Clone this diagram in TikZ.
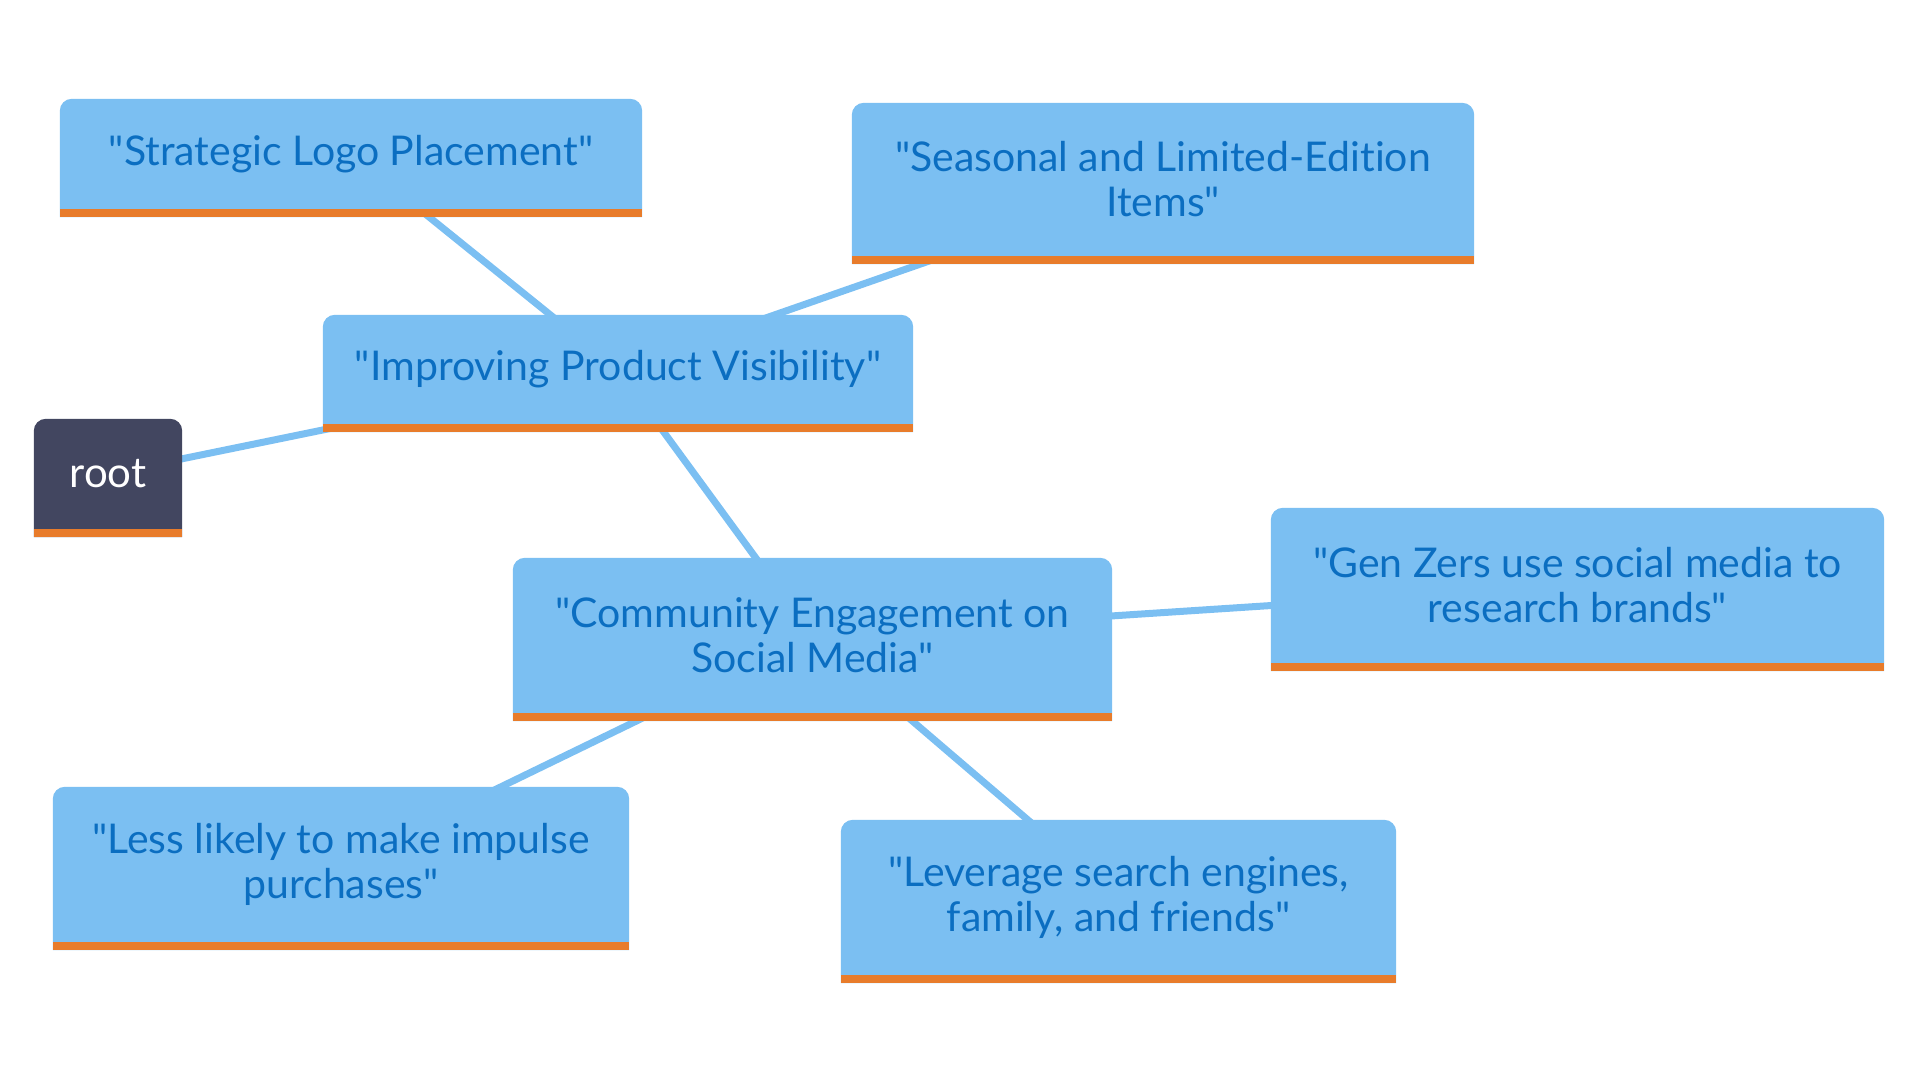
\documentclass[tikz,border=0pt]{standalone}
\usepackage{fontspec}
\setmainfont{Lato}[Ligatures={TeXOff,NoCommon}]
\usetikzlibrary{calc}
\definecolor{boxblue}{HTML}{7BBFF2}
\definecolor{barorange}{HTML}{E87C2B}
\definecolor{txtblue}{HTML}{0B6EC1}
\definecolor{rootfill}{HTML}{424660}
\pgfdeclarelayer{bg}
\pgfdeclarelayer{mid}
\pgfsetlayers{bg,mid,main}
\newcommand{\qq}{\char34\relax}
\newcommand{\mmbox}[2]{%
  \begin{pgfonlayer}{mid}
  \fill[#2] ([yshift=-8pt]#1.south west) -- ([yshift=-12pt]#1.north west)
     arc[start angle=180,end angle=90,radius=12pt] -- ([xshift=-12pt]#1.north east)
     arc[start angle=90,end angle=0,radius=12pt] -- ([yshift=-8pt]#1.south east) -- cycle;
  \fill[barorange] ([yshift=-8pt]#1.south west) rectangle (#1.south east);
  \end{pgfonlayer}}
\tikzset{
  mm/.style={rectangle, inner sep=0pt, align=center, text=txtblue,
    font=\fontsize{41}{45}\selectfont},
  rootnode/.style={mm, text=white, font=\fontsize{42}{45}\selectfont},
  link/.style={line width=7pt, boxblue}
}
\begin{document}
\begin{tikzpicture}[x=1pt,y=1pt]
\useasboundingbox (0,0) rectangle (1920,1080);
\node[rootnode, minimum width=148pt, minimum height=110pt] (root) at (108,606) {root};
\node[mm, minimum width=590pt, minimum height=109pt] (imp) at (618,710.5) {\qq Improving Product Visibility\qq};
\node[mm, minimum width=582pt, minimum height=110pt] (logo) at (351,926) {\qq Strategic Logo Placement\qq};
\node[mm, minimum width=622pt, minimum height=153pt] (seas) at (1163,900.5) {\qq Seasonal and Limited-Edition\\Items\qq};
\node[mm, minimum width=599pt, minimum height=155pt] (comm) at (812.5,444.5) {\qq Community Engagement on\\Social Media\qq};
\node[mm, minimum width=613pt, minimum height=155pt] (genz) at (1577.5,494.5) {\qq Gen Zers use social media to\\research brands\qq};
\node[mm, minimum width=576pt, minimum height=155pt] (less) at (341,215.5) {\qq Less likely to make impulse\\purchases\qq};
\node[mm, minimum width=555pt, minimum height=155pt] (lev) at (1118.5,182.5) {\qq Leverage search engines,\\family, and friends\qq};
\mmbox{root}{rootfill}
\mmbox{imp}{boxblue}
\mmbox{logo}{boxblue}
\mmbox{seas}{boxblue}
\mmbox{comm}{boxblue}
\mmbox{genz}{boxblue}
\mmbox{less}{boxblue}
\mmbox{lev}{boxblue}
\begin{pgfonlayer}{bg}
\draw[link] (root.center) -- (imp.center);
\draw[link] (imp.center) -- (logo.center);
\draw[link] (imp.center) -- (seas.center);
\draw[link] (imp.center) -- (comm.center);
\draw[link] (comm.center) -- (genz.center);
\draw[link] (comm.center) -- (less.center);
\draw[link] (comm.center) -- (lev.center);
\end{pgfonlayer}
\end{tikzpicture}
\end{document}
